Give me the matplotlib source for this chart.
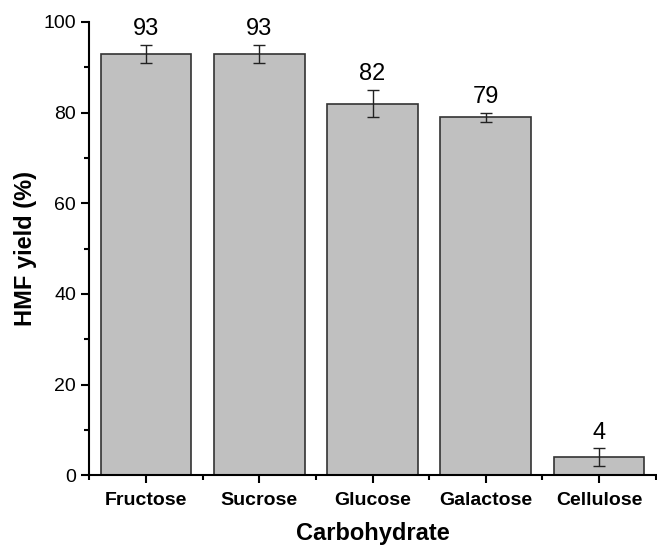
import matplotlib.pyplot as plt
from matplotlib.ticker import MultipleLocator, FixedLocator

plt.rcParams['font.family'] = ['Liberation Sans', 'DejaVu Sans']

carbs = ["Fructose", "Sucrose", "Glucose", "Galactose", "Cellulose"]
yields = [93, 93, 82, 79, 4]
errors = [2, 2, 3, 1, 2]

fig = plt.figure(figsize=(6.57, 5.47), dpi=100)
ax = fig.add_axes([0.136, 0.131, 0.862, 0.829])

x = list(range(len(carbs)))
ax.bar(x, yields, width=0.8, color="#c0c0c0", edgecolor="#333333", linewidth=1.2,
       yerr=errors, error_kw=dict(ecolor="#222222", elinewidth=1, capsize=4, capthick=1))

for xi, v, e in zip(x, yields, errors):
    ax.text(xi, v + e + 1.0, str(v), ha="center", va="bottom", fontsize=17)

ax.set_xlim(-0.5, 4.5)
ax.set_ylim(0, 100)
ax.set_xticks(x)
ax.set_xticklabels(carbs, fontsize=14, fontweight="bold")
ax.xaxis.set_minor_locator(FixedLocator([i + 0.5 for i in range(-1, 5)]))
ax.yaxis.set_major_locator(MultipleLocator(20))
ax.yaxis.set_minor_locator(MultipleLocator(10))
ax.tick_params(axis="y", labelsize=14)
ax.tick_params(axis="x", pad=6)
ax.tick_params(which="major", direction="out", length=6, width=1.5)
ax.tick_params(which="minor", direction="out", length=3.5, width=1.5)

for s in ["top", "right"]:
    ax.spines[s].set_visible(False)
for s in ["left", "bottom"]:
    ax.spines[s].set_linewidth(1.5)

ax.set_xlabel("Carbohydrate", fontsize=17, fontweight="bold", labelpad=9)
ax.set_ylabel("HMF yield (%)", fontsize=17, fontweight="bold", labelpad=5)

fig.savefig("out.png", dpi=100)
